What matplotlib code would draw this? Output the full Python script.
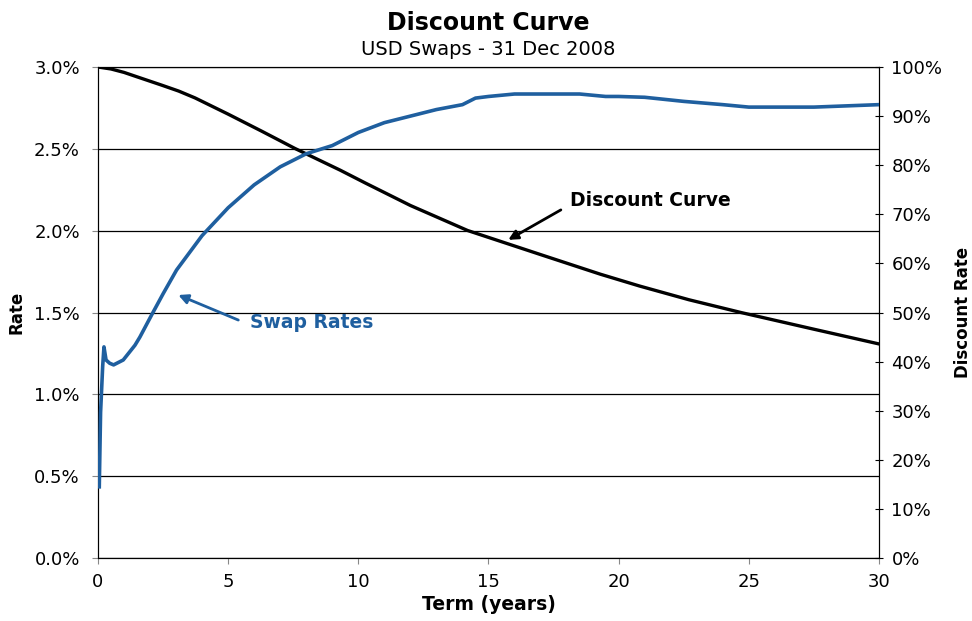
import numpy as np
import matplotlib.pyplot as plt
from matplotlib.ticker import FuncFormatter

# swap rates (left axis, %)
swap_term = [0.05, 0.1, 0.18, 0.23, 0.31, 0.45, 0.6, 0.97, 1.42, 1.61, 2.06, 2.51, 3.02, 4.0, 5.0,
             6.0, 7.0, 8.0, 9.0, 10.0, 11.0, 12.0, 13.0, 14.0, 14.5, 15.0, 16.0, 18.5,
             19.5, 20.0, 21.0, 22.5, 24.0, 25.0, 27.5, 30.0]
swap_rate = [0.435, 0.89, 1.17, 1.29, 1.21, 1.19, 1.18, 1.21, 1.30, 1.35, 1.485, 1.617, 1.76, 1.97, 2.14,
             2.28, 2.39, 2.47, 2.52, 2.60, 2.66, 2.70, 2.74, 2.77, 2.81, 2.82, 2.835, 2.835,
             2.82, 2.82, 2.815, 2.79, 2.77, 2.755, 2.755, 2.77]

# discount factors (right axis, %)
disc_term = [0, 0.5, 1, 1.5, 2.45, 3.1, 3.73, 5, 6.3, 7.57, 9.3, 10.26, 12, 14.2, 17, 19.3, 20.8, 22.7, 24.7, 27.5, 30]
disc_val = [100, 99.6, 98.9, 98.0, 96.3, 95.1, 93.7, 90.4, 86.9, 83.4, 79.0, 76.4, 71.8, 66.7, 61.8, 57.8, 55.4, 52.6, 50.0, 46.6, 43.6]

fig = plt.figure(figsize=(9.72, 6.21), dpi=100)
ax = fig.add_axes([0.1008, 0.1014, 0.8035, 0.7907])
ax2 = ax.twinx()

ax.plot(swap_term, swap_rate, color='#1f5f9f', lw=2.6, zorder=3)
ax2.plot(disc_term, disc_val, color='black', lw=2.4)

ax.set_xlim(0, 30)
ax.set_ylim(0, 3.0)
ax2.set_ylim(0, 100)
ax.set_xticks(range(0, 31, 5))
ax.set_yticks(np.arange(0, 3.01, 0.5))
ax2.set_yticks(range(0, 101, 10))
ax.yaxis.set_major_formatter(FuncFormatter(lambda v, p: f'{v:.1f}%'))
ax2.yaxis.set_major_formatter(FuncFormatter(lambda v, p: f'{v:.0f}%'))
ax.grid(axis='y', color='black', lw=0.9)
ax.set_axisbelow(True)

ax.tick_params(labelsize=13, length=4, color='#888888')
ax.tick_params(axis='x', pad=7)
ax.tick_params(axis='y', pad=9)
ax2.tick_params(labelsize=13, length=6, direction='inout', pad=6)

ax.set_xlabel('Term (years)', fontsize=13.5, fontweight='bold', labelpad=3)
ax.set_ylabel('Rate', fontsize=12, fontweight='bold', labelpad=6)
ax2.set_ylabel('Discount Rate', fontsize=12, fontweight='bold', labelpad=8)

ax.set_zorder(ax2.get_zorder() + 1)
ax.patch.set_visible(False)

fig.text(0.502, 0.952, 'Discount Curve', ha='center', fontsize=17, fontweight='bold')
fig.text(0.502, 0.912, 'USD Swaps - 31 Dec 2008', ha='center', fontsize=14)

ax.text(5.85, 1.437, 'Swap Rates', color='#1f5f9f', fontsize=13.5, fontweight='bold', va='center')
ax.annotate('', xy=(3.085, 1.607), xytext=(5.39, 1.454),
            arrowprops=dict(arrowstyle='-|>', color='#1f5f9f', lw=2, mutation_scale=14,
                            shrinkA=0, shrinkB=0))
ax2.text(18.13, 72.9, 'Discount Curve', color='black', fontsize=13.5, fontweight='bold', va='center')
ax2.annotate('', xy=(15.76, 64.8), xytext=(17.78, 70.9),
             arrowprops=dict(arrowstyle='-|>', color='black', lw=2, mutation_scale=14,
                             shrinkA=0, shrinkB=0))

fig.savefig('out.png', dpi=100)
